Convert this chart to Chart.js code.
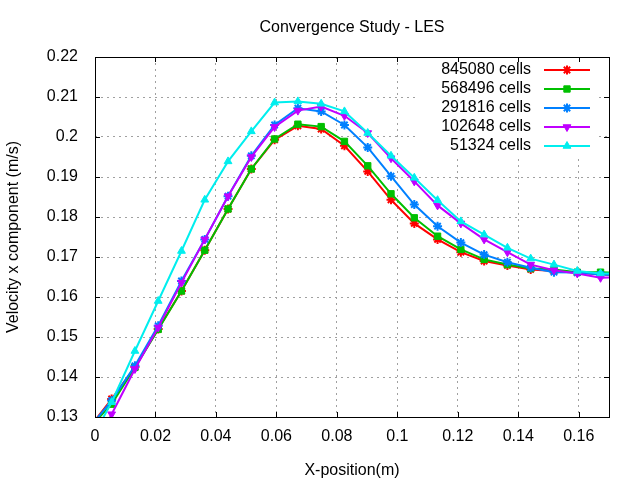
<!DOCTYPE html>
<html lang="en">
<head>
<meta charset="UTF-8">
<title>Convergence Study - LES</title>
<script src="https://cdn.jsdelivr.net/npm/chart.js"></script>
<style>
  html, body { margin: 0; padding: 0; background: #fff; }
  #wrap { width: 640px; height: 480px; }
</style>
</head>
<body>
<div id="wrap"><canvas id="canvas"></canvas></div>
<script>
// sample positions along x (m); first and last ones fall just outside the plotted range
const xPos = [-0.0022, 0.0055, 0.0132, 0.0209, 0.0286, 0.0363, 0.0440, 0.0517, 0.0594, 0.0671, 0.0748, 0.0825,
  0.0902, 0.0979, 0.1056, 0.1133, 0.1210, 0.1287, 0.1364, 0.1441, 0.1518, 0.1595, 0.1672, 0.1749]

const cells845080 = [0.127, 0.1345, 0.1425, 0.1520, 0.1615, 0.1717, 0.1820, 0.1920, 0.1993, 0.2028, 0.2020, 0.1978,
  0.1914, 0.1843, 0.1784, 0.1744, 0.1712, 0.1690, 0.1679, 0.1669, 0.1665, 0.1661, 0.1656, 0.1655]
const cells568496 = [0.127, 0.1332, 0.1424, 0.1519, 0.1615, 0.1717, 0.1820, 0.1920, 0.1995, 0.2032, 0.2026, 0.1989,
  0.1928, 0.1858, 0.1798, 0.1752, 0.1719, 0.1694, 0.1681, 0.1671, 0.1669, 0.1662, 0.1662, 0.1660]
const cells291816 = [0.127, 0.1341, 0.1428, 0.1528, 0.1640, 0.1744, 0.1852, 0.1953, 0.2030, 0.2072, 0.2064, 0.2030,
  0.1974, 0.1902, 0.1831, 0.1777, 0.1736, 0.1706, 0.1687, 0.1673, 0.1662, 0.1661, 0.1656, 0.1655]
const cells102648 = [0.118, 0.1307, 0.1420, 0.1524, 0.1636, 0.1744, 0.1852, 0.1950, 0.2025, 0.2066, 0.2076, 0.2053,
  0.2010, 0.1947, 0.1889, 0.1829, 0.1784, 0.1744, 0.1712, 0.1681, 0.1667, 0.1659, 0.1648, 0.1650]
const cells51324 = [0.123, 0.1337, 0.1465, 0.1590, 0.1715, 0.1843, 0.1939, 0.2014, 0.2086, 0.2089, 0.2083, 0.2064,
  0.2010, 0.1953, 0.1898, 0.1842, 0.1789, 0.1756, 0.1723, 0.1696, 0.1681, 0.1665, 0.1659, 0.1658]

const seriesNames = ['845080 cells', '568496 cells', '291816 cells', '102648 cells', '51324 cells']
const xTicks = [0, 0.02, 0.04, 0.06, 0.08, 0.1, 0.12, 0.14, 0.16]
const yTicks = [0.13, 0.14, 0.15, 0.16, 0.17, 0.18, 0.19, 0.2, 0.21, 0.22]

const FONT = '"Liberation Sans", Arial, sans-serif'

const styles = [
  { color: '#ff0000', point: 'star', rot: 0, bw: 2 },
  { color: '#00c000', point: 'rect', rot: 0, bw: 1 },
  { color: '#0080ff', point: 'star', rot: 0, bw: 2 },
  { color: '#c000ff', point: 'triangle', rot: 180, bw: 1 },
  { color: '#00eeee', point: 'triangle', rot: 0, bw: 1 },
]

function makeSet(i, vals) {
  const s = styles[i]
  return {
    label: seriesNames[i],
    data: xPos.map((x, k) => ({ x: x, y: vals[k] })),
    borderColor: s.color,
    backgroundColor: s.color,
    borderWidth: 2,
    pointStyle: s.point,
    pointRotation: s.rot,
    pointRadius: 4.5,
    pointBorderWidth: s.bw,
    pointBackgroundColor: s.color,
    pointBorderColor: s.color,
    tension: 0,
    clip: 0,
    order: 5 - i
  }
}

// gnuplot-like frame: opaque key, legend, box border and inward ticks
const frame = {
  id: 'frame',
  afterDatasetsDraw(chart) {
    const ctx = chart.ctx
    const a = chart.chartArea
    ctx.save()
    ctx.fillStyle = '#fff'
    ctx.fillRect(417, a.top, 182, 99)

    ctx.font = '16px ' + FONT
    ctx.textAlign = 'right'
    ctx.textBaseline = 'middle'
    for (let i = 0; i < seriesNames.length; i++) {
      const y = 70 + 19 * i
      const s = styles[i]
      ctx.fillStyle = '#000'
      ctx.fillText(seriesNames[i], 531, y)
      ctx.strokeStyle = s.color
      ctx.fillStyle = s.color
      ctx.lineWidth = 2
      ctx.beginPath()
      ctx.moveTo(544, y)
      ctx.lineTo(590, y)
      ctx.stroke()
      ctx.lineWidth = s.bw
      Chart.helpers.drawPoint(ctx, { pointStyle: s.point, rotation: s.rot, radius: 4.5, borderWidth: s.bw }, 567, y)
    }

    ctx.strokeStyle = '#000'
    ctx.lineWidth = 1
    ctx.beginPath()
    const xs = chart.scales.x, ys = chart.scales.y
    xTicks.forEach(v => {
      const px = Math.round(xs.getPixelForValue(v)) + 0.5
      ctx.moveTo(px, a.bottom); ctx.lineTo(px, a.bottom - 5)
      ctx.moveTo(px, a.top); ctx.lineTo(px, a.top + 5)
    })
    yTicks.forEach(v => {
      const py = Math.round(ys.getPixelForValue(v)) + 0.5
      ctx.moveTo(a.left, py); ctx.lineTo(a.left + 5, py)
      ctx.moveTo(a.right, py); ctx.lineTo(a.right - 5, py)
    })
    ctx.stroke()
    ctx.strokeRect(Math.round(a.left) + 0.5, Math.round(a.top) + 0.5,
      Math.round(a.right - a.left), Math.round(a.bottom - a.top))
    ctx.restore()
  }
}

const ctx = document.getElementById('canvas')
const graph = new Chart(ctx, {
  type: 'line',
  data: {
    datasets: [
      makeSet(0, cells845080),
      makeSet(1, cells568496),
      makeSet(2, cells291816),
      makeSet(3, cells102648),
      makeSet(4, cells51324)
    ]
  },
  options: {
    responsive: true,
    maintainAspectRatio: false,
    animation: false,
    devicePixelRatio: 1,
    layout: { padding: { left: 0, right: 31, top: 0, bottom: 0 } },
    plugins: {
      legend: { display: false },
      tooltip: { enabled: false },
      title: {
        display: true,
        fullSize: false,
        text: 'Convergence Study - LES',
        color: '#000',
        font: { family: FONT, size: 16, weight: 'normal' },
        padding: { top: 18, bottom: 19.8 }
      }
    },
    scales: {
      x: {
        type: 'linear',
        min: 0,
        max: 0.17,
        afterBuildTicks: s => { s.ticks = xTicks.map(v => ({ value: v })) },
        afterFit: s => { s.height = 63 },
        ticks: {
          color: '#000',
          font: { family: FONT, size: 16 },
          padding: 10,
          autoSkip: false,
          maxRotation: 0,
          callback: v => String(+v.toFixed(2))
        },
        grid: { color: '#a0a0a0', drawTicks: false, lineWidth: 1 },
        border: { display: false, dash: [2, 4] },
        title: {
          display: true,
          text: 'X-position(m)',
          color: '#000',
          font: { family: FONT, size: 16 },
          padding: { top: 5, bottom: 0 }
        }
      },
      y: {
        type: 'linear',
        min: 0.13,
        max: 0.22,
        afterBuildTicks: s => { s.ticks = yTicks.map(v => ({ value: v })) },
        afterFit: s => { s.width = 95 },
        ticks: {
          color: '#000',
          font: { family: FONT, size: 16 },
          padding: 17,
          autoSkip: false,
          callback: v => String(+v.toFixed(2))
        },
        grid: { color: '#a0a0a0', drawTicks: false, lineWidth: 1 },
        border: { display: false, dash: [2, 4] },
        title: {
          display: true,
          text: 'Velocity x component (m/s)',
          color: '#000',
          font: { family: FONT, size: 16 },
          padding: { top: 4, bottom: 0 }
        }
      }
    }
  },
  plugins: [frame]
})
</script>
</body>
</html>
